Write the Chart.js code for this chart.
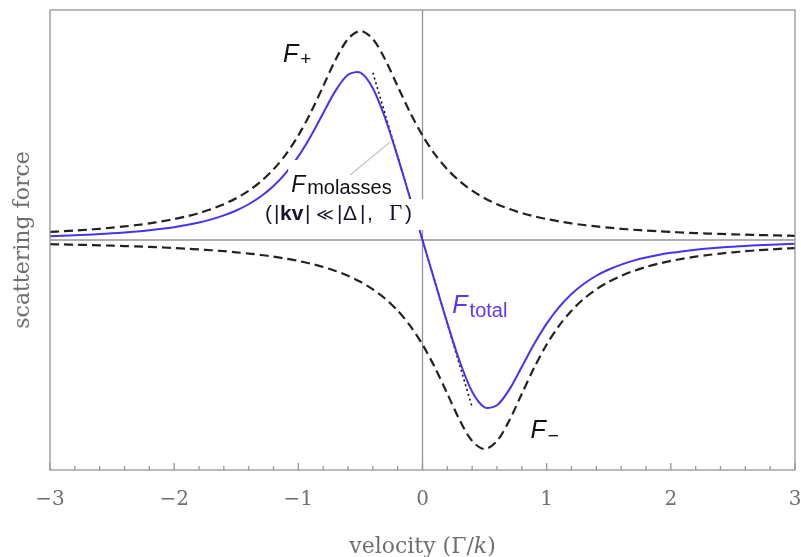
<!DOCTYPE html>
<html><head><meta charset="utf-8">
<script src="https://cdn.jsdelivr.net/npm/chart.js@4.4.1/dist/chart.umd.min.js"></script>
<style>html,body{margin:0;padding:0;background:#fff}#wrap{width:801px;height:557px}</style>
</head><body><div id="wrap"><canvas id="c" width="801" height="557"></canvas></div>
<script>
// velocity in units of Gamma/k
const velocity = [-3.0,-2.9,-2.8,-2.7,-2.6,-2.5,-2.4,-2.3,-2.2,-2.1,-2.0,-1.9,-1.8,-1.7,-1.6,-1.5,-1.4,-1.3,-1.2,-1.1,-1.0,-0.9,-0.8,-0.7,-0.6,-0.5,-0.4,-0.3,-0.2,-0.1,0.0,0.1,0.2,0.3,0.4,0.5,0.6,0.7,0.8,0.9,1.0,1.1,1.2,1.3,1.4,1.5,1.6,1.7,1.8,1.9,2.0,2.1,2.2,2.3,2.4,2.5,2.6,2.7,2.8,2.9,3.0];
const fPlus = [0.0385,0.0416,0.0451,0.0491,0.0536,0.0588,0.0648,0.0716,0.0796,0.0890,0.1000,0.1131,0.1289,0.1479,0.1712,0.2000,0.2358,0.2809,0.3378,0.4098,0.5000,0.6098,0.7353,0.8621,0.9615,1.0000,0.9615,0.8621,0.7353,0.6098,0.5000,0.4098,0.3378,0.2809,0.2358,0.2000,0.1712,0.1479,0.1289,0.1131,0.1000,0.0890,0.0796,0.0716,0.0648,0.0588,0.0536,0.0491,0.0451,0.0416,0.0385,0.0357,0.0332,0.0309,0.0289,0.0270,0.0254,0.0238,0.0225,0.0212,0.0200];
const fMinus = [-0.0200,-0.0212,-0.0225,-0.0238,-0.0254,-0.0270,-0.0289,-0.0309,-0.0332,-0.0357,-0.0385,-0.0416,-0.0451,-0.0491,-0.0536,-0.0588,-0.0648,-0.0716,-0.0796,-0.0890,-0.1000,-0.1131,-0.1289,-0.1479,-0.1712,-0.2000,-0.2358,-0.2809,-0.3378,-0.4098,-0.5000,-0.6098,-0.7353,-0.8621,-0.9615,-1.0000,-0.9615,-0.8621,-0.7353,-0.6098,-0.5000,-0.4098,-0.3378,-0.2809,-0.2358,-0.2000,-0.1712,-0.1479,-0.1289,-0.1131,-0.1000,-0.0890,-0.0796,-0.0716,-0.0648,-0.0588,-0.0536,-0.0491,-0.0451,-0.0416,-0.0385];
const fTotal = [0.0185,0.0204,0.0226,0.0253,0.0282,0.0318,0.0359,0.0407,0.0464,0.0533,0.0615,0.0715,0.0838,0.0988,0.1176,0.1412,0.1710,0.2093,0.2582,0.3208,0.4000,0.4967,0.6064,0.7142,0.7903,0.8000,0.7257,0.5812,0.3975,0.2000,0.0000,-0.2000,-0.3975,-0.5812,-0.7257,-0.8000,-0.7903,-0.7142,-0.6064,-0.4967,-0.4000,-0.3208,-0.2582,-0.2093,-0.1710,-0.1412,-0.1176,-0.0988,-0.0838,-0.0715,-0.0615,-0.0533,-0.0464,-0.0407,-0.0359,-0.0318,-0.0282,-0.0253,-0.0226,-0.0204,-0.0185];
const molassesV = [-0.4, 0.4];
const molassesF = [0.8, -0.8];
const pointerV = [-0.583, -0.26];
const pointerF = [0.311, 0.469];
const xTickValues = [-3,-2,-1,0,1,2,3];
const xTickLabels = ['\u22123','\u22122','\u22121','0','1','2','3'];

const pts = (xs, ys) => xs.map((v,i)=>({x:v, y:ys[i]}));
const BLUE = '#4633f2';
const GRAY = '#959595';
const TXT = '#6f6f6f';

function runs(ctx, x, y, list){
  let cx = x;
  for (const r of list){
    ctx.font = r.font; ctx.fillStyle = r.color || '#111';
    const px = (r.at !== undefined) ? x + r.at : cx + (r.dx||0);
    ctx.fillText(r.text, px, y + (r.dy||0));
    cx = px + ctx.measureText(r.text).width;
  }
  return cx;
}

const deco = {
  id:'deco',
  beforeDatasetsDraw(chart){
    const {ctx, chartArea:a, scales:{x,y}} = chart;
    ctx.save();
    ctx.strokeStyle = GRAY; ctx.lineWidth = 1.3;
    const x0 = x.getPixelForValue(0), y0 = y.getPixelForValue(0);
    ctx.beginPath();
    ctx.moveTo(x0, a.top); ctx.lineTo(x0, a.bottom);
    ctx.moveTo(a.left, y0); ctx.lineTo(a.right, y0);
    ctx.stroke();
    ctx.restore();
  },
  afterDatasetsDraw(chart){
    const {ctx, chartArea:a, scales:{x,y}} = chart;
    ctx.save();
    ctx.strokeStyle = GRAY; ctx.lineWidth = 1.3;
    ctx.strokeRect(a.left, a.top, a.right - a.left, a.bottom - a.top);
    ctx.beginPath();
    for (let i = -15; i <= 15; i++){
      const px = x.getPixelForValue(i/5);
      const len = (i % 5 === 0) ? 7 : 4;
      ctx.moveTo(px, a.bottom); ctx.lineTo(px, a.bottom - len);
    }
    ctx.stroke();

    ctx.textBaseline = 'alphabetic'; ctx.textAlign = 'left';
    const P = (vx, vy) => [x.getPixelForValue(vx), y.getPixelForValue(vy)];
    const SANS = '"Liberation Sans", Arial, sans-serif';

    let [lx, ly] = P(-1.123, 0.851);
    runs(ctx, lx, ly, [
      {text:'F', font:'italic 25px '+SANS},
      {text:'+', font:'19px '+SANS, dx:2, dy:3}
    ]);
    [lx, ly] = P(0.869, -0.947);
    runs(ctx, lx, ly, [
      {text:'F', font:'italic 25px '+SANS},
      {text:'\u2212', font:'19px '+SANS, dx:2, dy:4}
    ]);
    [lx, ly] = P(0.240, -0.349);
    runs(ctx, lx, ly, [
      {text:'F', font:'italic 25px '+SANS, color:'#6236f0'},
      {text:'total', font:'20px '+SANS, color:'#6236f0', dx:2, dy:4}
    ]);
    [lx, ly] = P(-1.058, 0.2296);
    ctx.font = 'italic 23px '+SANS;
    const wF = ctx.measureText('F').width;
    ctx.font = '20px '+SANS;
    const wM = ctx.measureText('molasses').width;
    ctx.fillStyle = '#fff';
    ctx.fillRect(lx - 3, ly - 32, wF + 6, 37);
    ctx.fillRect(lx + wF, ly - 15, wM + 6, 21);
    runs(ctx, lx, ly, [
      {text:'F', font:'italic 23px '+SANS},
      {text:'molasses', font:'20px '+SANS, dx:2, dy:2}
    ]);
    let [l2x, l2y] = P(-1.268, 0.0956);
    ctx.fillStyle = '#fff';
    ctx.fillRect(l2x - 2, l2y - 21, 164, 31);
    const C2 = '#141430';
    const F21 = '21px '+SANS;
    runs(ctx, l2x, l2y, [
      {text:'(', font:F21, color:C2, at:0},
      {text:'|', font:F21, color:C2, at:9},
      {text:'kv', font:'bold 21px '+SANS, color:C2, at:15},
      {text:'|', font:F21, color:C2, at:40},
      {text:'\u226A', font:'17px "DejaVu Sans", sans-serif', color:C2, at:51},
      {text:'|', font:F21, color:C2, at:72},
      {text:'\u0394', font:F21, color:C2, at:78},
      {text:'|', font:F21, color:C2, at:95},
      {text:',', font:F21, color:C2, at:102},
      {text:'\u0393', font:'23px "Liberation Serif", serif', color:C2, at:124},
      {text:')', font:F21, color:C2, at:140}
    ]);

    const SERIF = '"DejaVu Serif", serif';
    ctx.fillStyle = TXT;
    const t1 = 'velocity (\u0393/', t2 = 'k', t3 = ')';
    ctx.font = '22px '+SERIF; const w1 = ctx.measureText(t1).width, w3 = ctx.measureText(t3).width;
    ctx.font = 'italic 22px '+SERIF; const w2 = ctx.measureText(t2).width;
    const cx = (a.left + a.right)/2;
    let sx = cx - (w1+w2+w3)/2;
    const by = 553;
    ctx.font = '22px '+SERIF; ctx.fillText(t1, sx, by);
    ctx.font = 'italic 22px '+SERIF; ctx.fillText(t2, sx + w1, by);
    ctx.font = '22px '+SERIF; ctx.fillText(t3, sx + w1 + w2, by);
    ctx.restore();
  }
};

new Chart(document.getElementById('c'), {
  type:'line',
  data:{
    datasets:[
      {label:'F+', data:pts(velocity, fPlus), borderColor:'#222', borderWidth:2.2, borderDash:[9,5], pointRadius:0, tension:0.3, fill:false},
      {label:'F-', data:pts(velocity, fMinus), borderColor:'#222', borderWidth:2.2, borderDash:[9,5], pointRadius:0, tension:0.3, fill:false},
      {label:'F total', data:pts(velocity, fTotal), borderColor:BLUE, borderWidth:2, pointRadius:0, tension:0.3, fill:false},
      {label:'F molasses', data:pts(molassesV, molassesF), borderColor:'#111', borderWidth:1.6, borderDash:[2,3], pointRadius:0, fill:false},
      {label:'pointer', data:pts(pointerV, pointerF), borderColor:'#c4c4c4', borderWidth:1.2, pointRadius:0, fill:false}
    ]
  },
  options:{
    responsive:false, animation:false, devicePixelRatio:1,
    layout:{padding:{top:10, right:6, left:0, bottom:0}},
    plugins:{legend:{display:false}, tooltip:{enabled:false}},
    scales:{
      x:{
        type:'linear', min:-3, max:3,
        grid:{display:false, drawTicks:false}, border:{display:false},
        afterBuildTicks:(s)=>{ s.ticks = xTickValues.map(v=>({value:v})); },
        ticks:{padding:18, color:TXT, font:{family:'"DejaVu Serif", serif', size:20}, maxRotation:0,
          callback:(v)=>{ const i = xTickValues.indexOf(v); return i>=0 ? xTickLabels[i] : ''; }},
        afterFit:(s)=>{ s.height = 87; s.paddingLeft = 0; s.paddingRight = 0; }
      },
      y:{
        type:'linear', min:-1.1, max:1.1,
        grid:{display:false, drawTicks:false}, border:{display:false},
        ticks:{display:false},
        title:{display:true, text:'scattering force', color:TXT, font:{family:'"DejaVu Serif", serif', size:22}, padding:{top:10, bottom:0}},
        afterFit:(s)=>{ s.width = 50; }
      }
    }
  },
  plugins:[deco]
});
</script>
</body></html>
